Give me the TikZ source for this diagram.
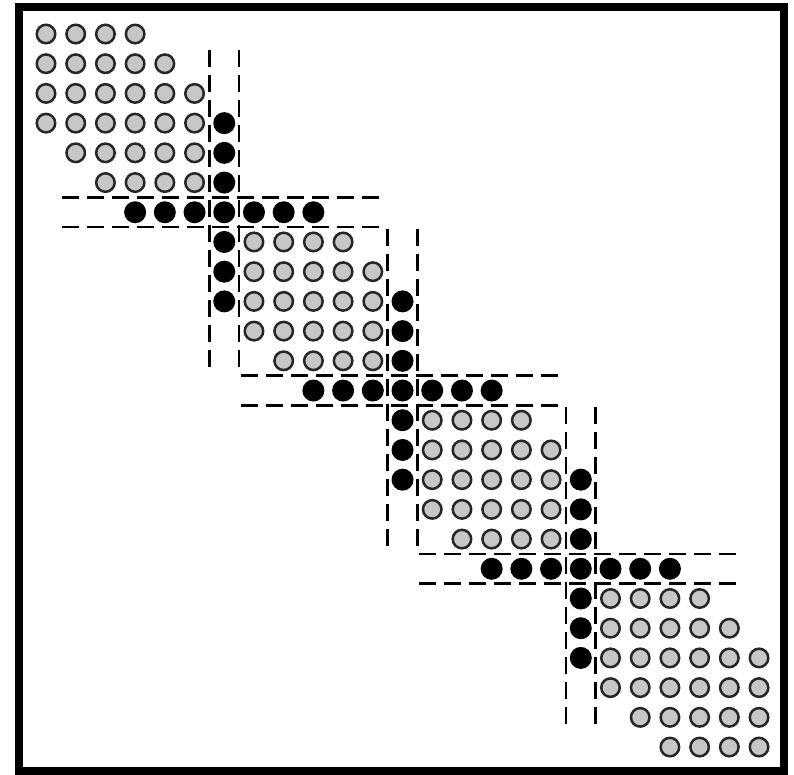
\documentclass[tikz,border=0pt]{standalone}
\begin{document}
\begin{tikzpicture}[x=1pt,y=-1pt,
  gc/.style={circle,draw=black!85,line width=2.5pt,fill=black!22,minimum size=18.5pt,inner sep=0pt},
  bc/.style={circle,fill=black,minimum size=22pt,inner sep=0pt},
  guide/.style={line width=2.6pt,dash pattern=on 17pt off 8pt}]
\useasboundingbox (0,0) rectangle (794,774);
\fill[white] (0,0) rectangle (794,774);
\draw[line width=8pt] (19,7) rectangle (784,771);
\begin{scope}[shift={(46,34)},x=29.71pt,y=-29.71pt]
  % dashed guide lines around the separator rows/columns
  \foreach \k in {6,12,18}{
    \coordinate (vt1-\k) at (\k-0.5,\k-5.45);
    \coordinate (vb1-\k) at (\k-0.5,\k+5.38);
    \coordinate (vt2-\k) at (\k+0.5,\k-5.45);
    \coordinate (vb2-\k) at (\k+0.5,\k+5.38);
    \coordinate (hl1-\k) at (\k-5.45,\k-0.5);
    \coordinate (hr1-\k) at (\k+5.38,\k-0.5);
    \coordinate (hl2-\k) at (\k-5.45,\k+0.5);
    \coordinate (hr2-\k) at (\k+5.38,\k+0.5);
    \draw[guide] (vt1-\k) -- (vb1-\k);
    \draw[guide] (vt2-\k) -- (vb2-\k);
    \draw[guide] (hl1-\k) -- (hr1-\k);
    \draw[guide] (hl2-\k) -- (hr2-\k);
  }
  % gray entries
  \foreach \r/\a/\b in {0/0/3,1/0/4,2/0/5,3/0/5,4/1/5,5/2/5,
                        7/7/10,8/7/11,9/7/11,10/7/11,11/8/11,
                        13/13/16,14/13/17,15/13/17,16/13/17,17/14/17,
                        19/19/22,20/19/23,21/19/24,22/19/24,23/20/24,24/21/24}{
    \foreach \c in {\a,...,\b}{
      \node[gc] (g\r-\c) at (\c,\r) {};
    }
  }
  % black separator entries
  \foreach \k in {6,12,18}{
    \foreach \d in {-3,...,3}{
      \node[bc] (bh\k-\d) at (\k+\d,\k) {};
    }
    \foreach \d in {-3,-2,-1,1,2,3}{
      \node[bc] (bv\k-\d) at (\k,\k+\d) {};
    }
  }
\end{scope}
\end{tikzpicture}
\end{document}
